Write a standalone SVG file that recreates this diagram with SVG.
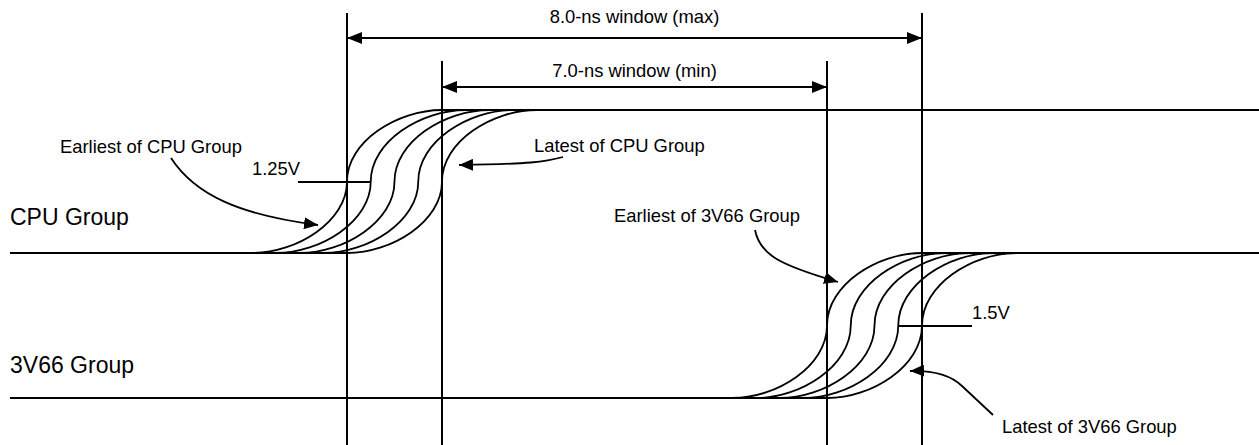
<svg xmlns="http://www.w3.org/2000/svg" width="1259" height="445" viewBox="0 0 1259 445">
<style>
.ln{stroke:#000;stroke-width:2;fill:none}
.cv{stroke:#000;stroke-width:1.8;fill:none}
.lead{stroke:#000;stroke-width:1.8;fill:none;marker-end:url(#ah)}
.dim{stroke:#000;stroke-width:2;fill:none;marker-start:url(#dh);marker-end:url(#dh)}
text{font-family:"Liberation Sans",Arial,Helvetica,sans-serif;fill:#000}
.lbl{font-size:18.4px}
.grp{font-size:23px}
</style>
<defs>
<marker id="dh" viewBox="0 0 15 12" refX="15" refY="6" markerWidth="15" markerHeight="12" markerUnits="userSpaceOnUse" orient="auto-start-reverse"><path d="M0,0 L15,6 L0,12 z" fill="#000"/></marker>
<marker id="ah" viewBox="0 0 14 12" refX="14" refY="6" markerWidth="14" markerHeight="12" markerUnits="userSpaceOnUse" orient="auto"><path d="M0,0 L14,6 L0,12 z" fill="#000"/></marker>
<path id="sCPU" d="M-95,71.5 C-50,71.5 0,40 0,0 C0,-40 50,-71.5 95,-71.5"/>
<path id="s3V" d="M-95,72.5 C-50,72.5 0,40.5 0,0 C0,-40.5 50,-72.5 95,-72.5"/>
</defs>

<g id="guides" class="ln">
<line x1="347" y1="13" x2="347" y2="445"/>
<line x1="922" y1="13" x2="922" y2="445"/>
<line x1="442" y1="61" x2="442" y2="445"/>
<line x1="827" y1="61" x2="827" y2="445"/>
</g>

<g id="window-max">
<line class="dim" x1="347" y1="38" x2="922" y2="38"/>
<text class="lbl" x="634.5" y="23" text-anchor="middle">8.0-ns window (max)</text>
</g>
<g id="window-min">
<line class="dim" x1="442" y1="87" x2="827" y2="87"/>
<text class="lbl" x="634.5" y="77" text-anchor="middle">7.0-ns window (min)</text>
</g>

<g id="cpu-group">
<text class="grp" x="10" y="225">CPU Group</text>
<line class="ln" x1="10" y1="253" x2="348" y2="253"/>
<line class="ln" x1="442" y1="110" x2="1259" y2="110"/>
<g class="cv">
<use href="#sCPU" x="347" y="181.5"/>
<use href="#sCPU" x="370.75" y="181.5"/>
<use href="#sCPU" x="394.5" y="181.5"/>
<use href="#sCPU" x="418.25" y="181.5"/>
<use href="#sCPU" x="442" y="181.5"/>
</g>
<line class="ln" x1="298" y1="182" x2="371" y2="182"/>
<text class="lbl" x="252" y="175">1.25V</text>
</g>

<g id="v3v66-group">
<text class="grp" x="10" y="373">3V66 Group</text>
<line class="ln" x1="10" y1="398" x2="828" y2="398"/>
<line class="ln" x1="922" y1="253" x2="1259" y2="253"/>
<g class="cv">
<use href="#s3V" x="827" y="325.5"/>
<use href="#s3V" x="850.75" y="325.5"/>
<use href="#s3V" x="874.5" y="325.5"/>
<use href="#s3V" x="898.25" y="325.5"/>
<use href="#s3V" x="922" y="325.5"/>
</g>
<line class="ln" x1="898" y1="326" x2="972" y2="326"/>
<text class="lbl" x="972" y="319">1.5V</text>
</g>

<g id="labels">
<text class="lbl" x="60" y="153">Earliest of CPU Group</text>
<text class="lbl" x="534" y="152">Latest of CPU Group</text>
<text class="lbl" x="614" y="222">Earliest of 3V66 Group</text>
<text class="lbl" x="1002" y="433">Latest of 3V66 Group</text>
</g>

<g id="connectors">
<path class="lead" d="M171,158 C195,195 240,215 318,225"/>
<path class="lead" d="M563,157 C545,162 530,164 459,165"/>
<path class="lead" d="M755,230 C760,255 780,265 838,282"/>
<path class="lead" d="M993,415 L962,386 Q945,370 910,371"/>
</g>
</svg>
